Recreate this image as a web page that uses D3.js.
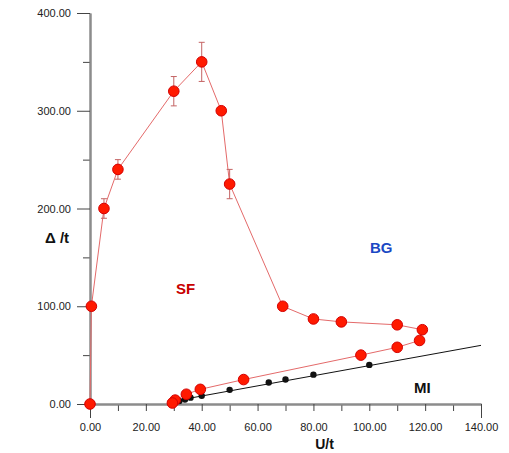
<!DOCTYPE html>
<html>
<head>
<meta charset="utf-8">
<script src="https://cdn.jsdelivr.net/npm/d3@7"></script>
<style>
  body { margin: 0; background: #fff; }
  svg { font-family: Arial, "Liberation Sans", sans-serif; }
  .tick text { font-size: 11px; fill: #222; }
  .lbl { font-weight: bold; }
</style>
</head>
<body>
<svg class="js-chart"></svg>
<script>
// SF / BG curve (red), in drawing order
const sfU     = [0, 0.5, 5, 10, 30, 40, 47, 50, 69, 80, 90, 110, 119, 118, 110, 97, 55, 39.5, 34.5, 30.5, 29.5];
const sfDelta = [0, 100, 200, 240, 320, 350, 300, 225, 100, 87, 84, 81, 76, 65, 58, 50, 25, 15, 10, 4, 1];
// error bars (half-height), only for some points
const sfErr   = [0, 0, 10, 10, 15, 20, 3, 15, 0, 0, 0, 0, 0, 0, 0, 0, 0, 0, 0, 0, 0];

// MI points (black) and the straight MI line
const miU     = [32, 34, 36, 40, 50, 64, 70, 80, 100];
const miDelta = [3, 4.5, 6.5, 8.5, 14.5, 22, 25, 30, 40];
const miLineU     = [30, 140];
const miLineDelta = [3, 60];

const xMajor = [0, 20, 40, 60, 80, 100, 120, 140];
const xMinor = [10, 30, 50, 70, 90, 110, 130];
const yMajor = [0, 100, 200, 300, 400];
const yMinor = [50, 150, 250, 350];

const W = 509, H = 453;
const margin = {top: 13, right: 28, bottom: 49, left: 90};
const width = W - margin.left - margin.right;
const height = H - margin.top - margin.bottom;

const svg = d3.select('.js-chart').attr('width', W).attr('height', H);
const g = svg.append('g').attr('transform', `translate(${margin.left},${margin.top})`);

const x = d3.scaleLinear().domain([0, 140]).range([0, width]);
const y = d3.scaleLinear().domain([0, 400]).range([height, 0]);
const fmt = d3.format('.2f');

// axes
const styleAxis = a => {
  a.select('.domain').attr('stroke', '#8c8c8c').attr('stroke-width', 2);
  a.selectAll('.tick line').attr('stroke', '#444');
};

g.append('g').attr('transform', `translate(0,${height})`)
  .call(d3.axisBottom(x).tickValues(xMinor).tickSize(7).tickFormat('').tickSizeOuter(0))
  .call(styleAxis);
const xa = g.append('g').attr('transform', `translate(0,${height})`)
  .call(d3.axisBottom(x).tickValues(xMajor).tickSize(7).tickPadding(12).tickFormat(fmt).tickSizeOuter(0))
  .call(styleAxis);
xa.selectAll('.tick line').attr('y2', d => (d === 0 || d === 140) ? 14 : 7);

g.append('g')
  .call(d3.axisLeft(y).tickValues(yMinor).tickSize(7).tickFormat('').tickSizeOuter(0))
  .call(styleAxis);
g.append('g')
  .call(d3.axisLeft(y).tickValues(yMajor).tickSize(13).tickPadding(6).tickFormat(fmt).tickSizeOuter(0))
  .call(styleAxis);

// MI line and points
const sf = sfU.map((u, i) => ({u, d: sfDelta[i], e: sfErr[i]}));
const mi = miU.map((u, i) => ({u, d: miDelta[i]}));
const miLine = miLineU.map((u, i) => ({u, d: miLineDelta[i]}));

const line = d3.line().x(p => x(p.u)).y(p => y(p.d));

g.append('path').attr('d', line(miLine))
  .attr('fill', 'none').attr('stroke', '#111').attr('stroke-width', 1);
g.selectAll('.mi').data(mi).enter().append('circle')
  .attr('class', 'mi')
  .attr('cx', p => x(p.u)).attr('cy', p => y(p.d)).attr('r', 3.2)
  .attr('fill', '#111');

// SF curve
g.append('path').attr('d', line(sf))
  .attr('fill', 'none').attr('stroke', '#e46a6a').attr('stroke-width', 1);

// error bars
const eb = g.selectAll('.eb').data(sf.filter(p => p.e > 0)).enter().append('g').attr('class', 'eb')
  .attr('stroke', '#c46464').attr('stroke-width', 1);
eb.append('line')
  .attr('x1', p => x(p.u)).attr('x2', p => x(p.u))
  .attr('y1', p => y(p.d + p.e)).attr('y2', p => y(p.d - p.e));
eb.append('line')
  .attr('x1', p => x(p.u) - 3).attr('x2', p => x(p.u) + 3)
  .attr('y1', p => y(p.d + p.e)).attr('y2', p => y(p.d + p.e));
eb.append('line')
  .attr('x1', p => x(p.u) - 3).attr('x2', p => x(p.u) + 3)
  .attr('y1', p => y(p.d - p.e)).attr('y2', p => y(p.d - p.e));

g.selectAll('.sf').data(sf).enter().append('circle')
  .attr('class', 'sf')
  .attr('cx', p => x(p.u)).attr('cy', p => y(p.d)).attr('r', 5.3)
  .attr('fill', '#ff1a00').attr('stroke', '#d40000').attr('stroke-width', 1);

// axis titles
svg.append('text').attr('class', 'lbl')
  .attr('x', 45).attr('y', 243).attr('font-size', 15).attr('fill', '#111')
  .text('Δ /t');
svg.append('text').attr('class', 'lbl')
  .attr('x', margin.left + x(84)).attr('y', 449).attr('text-anchor', 'middle')
  .attr('font-size', 14).attr('fill', '#111')
  .text('U/t');

// region labels
svg.append('text').attr('class', 'lbl')
  .attr('x', 176).attr('y', 294).attr('font-size', 15).attr('fill', '#c80000')
  .text('SF');
svg.append('text').attr('class', 'lbl')
  .attr('x', 370).attr('y', 253).attr('font-size', 15).attr('fill', '#1a48c4')
  .text('BG');
svg.append('text').attr('class', 'lbl')
  .attr('x', 414).attr('y', 393).attr('font-size', 15).attr('fill', '#111')
  .text('MI');
</script>
</body>
</html>
